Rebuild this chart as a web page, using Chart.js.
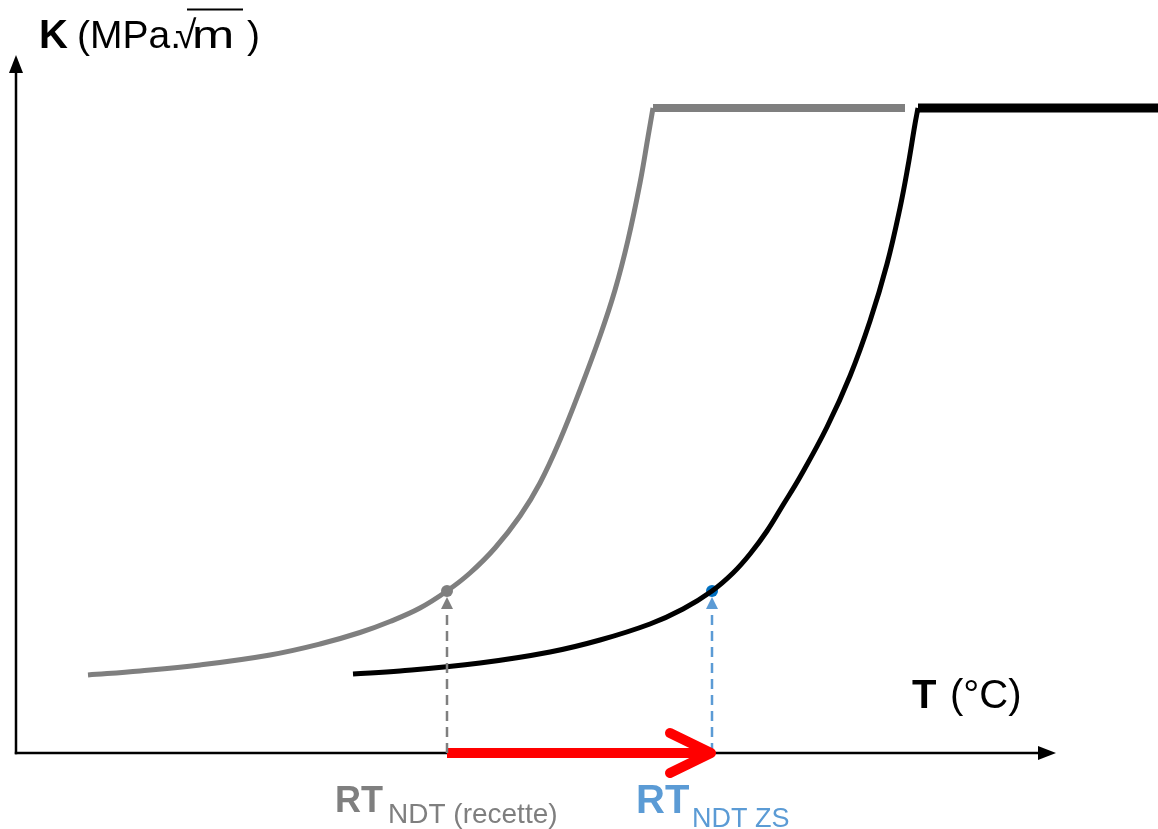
<!DOCTYPE html>
<html>
<head>
<meta charset="utf-8">
<style>
html,body{margin:0;padding:0;background:#fff;}
#wrap{width:1158px;height:829px;position:relative;}
</style>
<script src="https://cdn.jsdelivr.net/npm/chart.js@4/dist/chart.umd.min.js"></script>
</head>
<body>
<div id="wrap"><canvas id="c"></canvas></div>
<script>
// Temperature (T) and toughness (K) readings, in arbitrary chart units (no ticks in the original)
const grayT  = [72, 124, 184, 254, 304, 344, 374, 404, 431, 454, 479, 504, 524, 544, 564, 584, 599, 612, 624, 632, 637];
const grayK  = [78, 82, 88, 98, 109, 120.5, 131.5, 145, 162, 180, 205, 237, 270, 313, 363, 417, 463, 513, 570, 616, 645];
const grayPlateauT = [637, 889];
const grayPlateauK = [645, 645];

const blackT = [337, 384, 464, 534, 584, 634, 667, 696, 717, 734, 751, 767, 784, 811, 834, 854, 871, 884, 892, 899, 902];
const blackK = [79, 82, 90, 101, 113, 129, 144, 162, 180, 199, 222, 248, 276, 326, 377, 432, 489, 545, 587, 629, 645];
const blackPlateauT = [902, 1142];
const blackPlateauK = [645, 645];

const rtRecette = 431;   // RT_NDT (recette)
const rtZS = 696;        // RT_NDT ZS
const rtK = 162;         // K at the RT points
const dashTopK = 145;    // top of the dashed guide lines

const xMax = 1142, yMax = 753;

const pts = (xs, ys) => xs.map((x, i) => ({x: x, y: ys[i]}));

const GRAY = '#7f7f7f', BLUE_LT = '#5b9bd5', BLUE = '#0070c0', RED = '#ff0000';
const FONT = '"Liberation Sans", Arial, sans-serif';

const overlay = {
  id: 'overlay',
  beforeDatasetsDraw(chart) {
    const ctx = chart.ctx;
    const x0 = chart.scales.x.getPixelForValue(0);
    const y0 = chart.scales.y.getPixelForValue(0);
    ctx.save();
    ctx.strokeStyle = '#000'; ctx.fillStyle = '#000'; ctx.lineWidth = 2.5;
    // y axis
    ctx.beginPath(); ctx.moveTo(x0, y0 + 1.2); ctx.lineTo(x0, 70); ctx.stroke();
    ctx.beginPath(); ctx.moveTo(x0, 55); ctx.lineTo(x0 - 7, 73); ctx.lineTo(x0 + 7, 73); ctx.closePath(); ctx.fill();
    // x axis
    ctx.beginPath(); ctx.moveTo(x0 - 1.2, y0); ctx.lineTo(1042, y0); ctx.stroke();
    ctx.beginPath(); ctx.moveTo(1056, y0); ctx.lineTo(1038, y0 - 7); ctx.lineTo(1038, y0 + 7); ctx.closePath(); ctx.fill();
    ctx.restore();
  },
  afterDatasetsDraw(chart) {
    const ctx = chart.ctx;
    const sx = chart.scales.x, sy = chart.scales.y;
    const y0 = sy.getPixelForValue(0);
    ctx.save();
    // arrowheads of dashed guides
    [[rtRecette, GRAY], [rtZS, BLUE_LT]].forEach(([t, col]) => {
      const px = sx.getPixelForValue(t), top = sy.getPixelForValue(dashTopK);
      ctx.fillStyle = col;
      ctx.beginPath(); ctx.moveTo(px, top - 11); ctx.lineTo(px - 6, top + 1); ctx.lineTo(px + 6, top + 1); ctx.closePath(); ctx.fill();
    });
    // red chevron
    const tip = sx.getPixelForValue(rtZS) - 1;
    ctx.strokeStyle = RED; ctx.lineWidth = 10; ctx.lineCap = 'round'; ctx.lineJoin = 'round';
    ctx.beginPath(); ctx.moveTo(tip - 41, y0 - 20); ctx.lineTo(tip, y0); ctx.lineTo(tip - 41, y0 + 20); ctx.stroke();

    // texts
    ctx.textBaseline = 'alphabetic';
    ctx.fillStyle = '#000';
    ctx.font = 'bold 40px ' + FONT; ctx.fillText('K', 39, 48);
    ctx.font = '39px ' + FONT; ctx.fillText('(MPa.', 77, 48);
    ctx.fillText('\u221A', 175, 48);
    ctx.save(); ctx.translate(192, 48); ctx.scale(1.3, 1); ctx.fillText('m', 0, 0); ctx.restore();
    ctx.fillText(')', 247, 48);
    ctx.lineWidth = 2; ctx.strokeStyle = '#000'; ctx.lineCap = 'butt';
    ctx.beginPath(); ctx.moveTo(187, 9.5); ctx.lineTo(243, 9.5); ctx.stroke();

    ctx.font = 'bold 40px ' + FONT; ctx.fillText('T', 912, 708);
    ctx.font = '40px ' + FONT; ctx.fillText('(\u00B0C)', 950, 708);

    ctx.fillStyle = GRAY;
    ctx.font = 'bold 36px ' + FONT; ctx.fillText('RT', 335, 812);
    ctx.font = '28px ' + FONT; ctx.fillText('NDT (recette)', 388, 823);

    ctx.fillStyle = BLUE_LT;
    ctx.font = 'bold 40px ' + FONT; ctx.fillText('RT', 636, 813);
    ctx.font = '27px ' + FONT; ctx.fillText('NDT ZS', 692, 827);
    ctx.restore();
  }
};

new Chart(document.getElementById('c'), {
  type: 'line',
  data: {
    datasets: [
      { data: [{x: rtRecette, y: 0}, {x: rtRecette, y: dashTopK}], borderColor: GRAY, borderWidth: 2.5, borderDash: [10, 6], pointRadius: 0, clip: false },
      { data: [{x: rtZS, y: 0}, {x: rtZS, y: dashTopK}], borderColor: BLUE_LT, borderWidth: 2.5, borderDash: [10, 6], pointRadius: 0, clip: false },
      { data: pts(grayT, grayK), borderColor: GRAY, borderWidth: 5, tension: 0.4, pointRadius: 0, clip: false },
      { data: pts(grayPlateauT, grayPlateauK), borderColor: GRAY, borderWidth: 8, pointRadius: 0, clip: false },
      { data: pts(blackT, blackK), borderColor: '#000', borderWidth: 5, tension: 0.4, pointRadius: 0, clip: false },
      { data: pts(blackPlateauT, blackPlateauK), borderColor: '#000', borderWidth: 9, pointRadius: 0, clip: false },
      { data: [{x: rtRecette, y: rtK}], showLine: false, pointRadius: 6, pointBackgroundColor: GRAY, pointBorderWidth: 0, clip: false },
      { data: [{x: rtZS, y: rtK}], showLine: false, pointRadius: 6, pointBackgroundColor: BLUE, pointBorderWidth: 0, clip: false },
      { data: [{x: rtRecette, y: 0}, {x: rtZS, y: 0}], borderColor: RED, borderWidth: 10, pointRadius: 0, clip: false }
    ]
  },
  options: {
    responsive: true,
    maintainAspectRatio: false,
    animation: false,
    layout: { autoPadding: false, padding: { left: 16, right: 0, top: 0, bottom: 76 } },
    plugins: { legend: { display: false }, tooltip: { enabled: false } },
    scales: {
      x: { type: 'linear', min: 0, max: xMax, display: false },
      y: { type: 'linear', min: 0, max: yMax, display: false }
    }
  },
  plugins: [overlay]
});
</script>
</body>
</html>
